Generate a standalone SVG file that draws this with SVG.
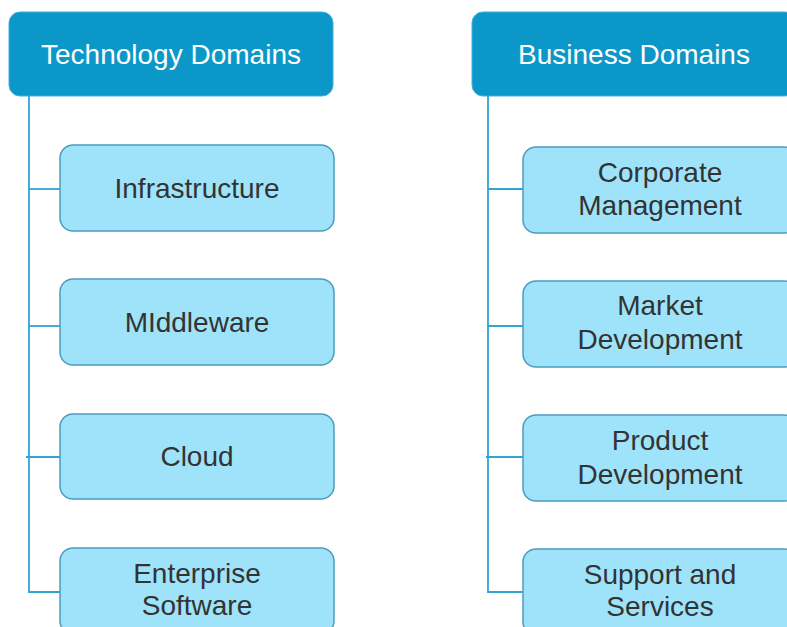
<svg xmlns="http://www.w3.org/2000/svg" width="787" height="627" viewBox="0 0 787 627">
  <style>
    .hdr rect { fill: #0b98c9; stroke: #3fb0dc; stroke-width: 1; }
    .hdr text { fill: #ffffff; font-family: "Liberation Sans", Arial, sans-serif; font-size: 28px; text-anchor: middle; }
    .node rect { fill: #9ee3f9; stroke: #4d9cc0; stroke-width: 1.5; }
    .node text { fill: #333333; font-family: "Liberation Sans", Arial, sans-serif; font-size: 28px; text-anchor: middle; }
    .conn { fill: none; stroke: #2fa5d7; stroke-width: 1.8; }
  </style>
  <rect width="787" height="627" fill="#ffffff"/>
  <g id="connectors">
    <path class="conn" d="M29 96 V592 H60"/>
    <path class="conn" d="M29 189 H60"/>
    <path class="conn" d="M29 326 H60"/>
    <path class="conn" d="M26 457 H60"/>
    <path class="conn" d="M488 96 V592 H523"/>
    <path class="conn" d="M488 189 H523"/>
    <path class="conn" d="M488 326 H523"/>
    <path class="conn" d="M486 457 H523"/>
  </g>
  <g id="tech-domains" class="hdr">
    <rect x="9" y="12" width="324" height="84" rx="11"/>
    <text x="171" y="64">Technology Domains</text>
  </g>
  <g id="business-domains" class="hdr">
    <rect x="472" y="12" width="324" height="84" rx="11"/>
    <text x="634" y="64">Business Domains</text>
  </g>
  <g id="infrastructure" class="node">
    <rect x="60" y="145" width="274" height="86" rx="13"/>
    <text x="197" y="198">Infrastructure</text>
  </g>
  <g id="middleware" class="node">
    <rect x="60" y="279" width="274" height="86" rx="13"/>
    <text x="197" y="332">MIddleware</text>
  </g>
  <g id="cloud" class="node">
    <rect x="60" y="414" width="274" height="85" rx="13"/>
    <text x="197" y="466">Cloud</text>
  </g>
  <g id="enterprise-software" class="node">
    <rect x="60" y="548" width="274" height="86" rx="13"/>
    <text x="197" y="583">Enterprise</text>
    <text x="197" y="615">Software</text>
  </g>
  <g id="corporate-management" class="node">
    <rect x="523" y="147" width="274" height="86" rx="13"/>
    <text x="660" y="182">Corporate</text>
    <text x="660" y="215">Management</text>
  </g>
  <g id="market-development" class="node">
    <rect x="523" y="281" width="274" height="86" rx="13"/>
    <text x="660" y="315">Market</text>
    <text x="660" y="349">Development</text>
  </g>
  <g id="product-development" class="node">
    <rect x="523" y="415" width="274" height="86" rx="13"/>
    <text x="660" y="450">Product</text>
    <text x="660" y="484">Development</text>
  </g>
  <g id="support-services" class="node">
    <rect x="523" y="549" width="274" height="86" rx="13"/>
    <text x="660" y="584">Support and</text>
    <text x="660" y="616">Services</text>
  </g>
</svg>
